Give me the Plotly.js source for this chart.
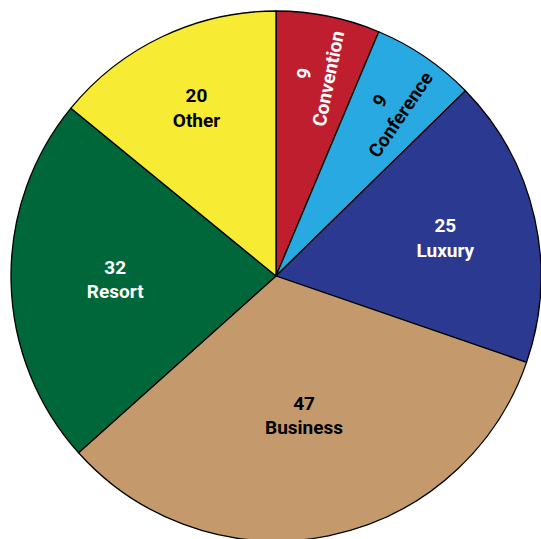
<!DOCTYPE html>
<html>
<head>
<meta charset="utf-8">
<script src="https://cdn.plot.ly/plotly-3.0.1.min.js"></script>
<style>html,body{margin:0;padding:0;overflow:hidden;background:#fff;}</style>
</head>
<body>
<div id="chart"></div>
<script>
// Data
const categories = ["Convention", "Conference", "Luxury", "Business", "Resort", "Other"];
const counts = [9, 9, 25, 47, 32, 20];
const sliceColors = ["#BE1E2D", "#29A9E1", "#2B3990", "#C49A6C", "#00673A", "#F8EB33"];
const labelColors = ["#ffffff", "#000000", "#ffffff", "#000000", "#ffffff", "#000000"];
const radialLabels = [true, true, false, false, false, false];

const font = {family: "Roboto, sans-serif", size: 19, weight: "bold"};

const common = {
  type: "pie",
  labels: categories,
  values: counts,
  sort: false,
  direction: "clockwise",
  rotation: 0,
  textposition: "inside",
  hoverinfo: "none",
  showlegend: false
};

const baseTrace = Object.assign({}, common, {
  marker: {colors: sliceColors, line: {color: "#000000", width: 1.3}},
  texttemplate: categories.map((c, i) => radialLabels[i] ? "" : "%{value}<br>%{label}"),
  insidetextorientation: "horizontal",
  insidetextfont: Object.assign({}, font, {color: labelColors})
});

const radialTrace = Object.assign({}, common, {
  marker: {colors: categories.map(() => "rgba(0,0,0,0)"), line: {width: 0}},
  texttemplate: categories.map((c, i) => radialLabels[i] ? "%{value}<br>%{label}" : ""),
  insidetextorientation: "radial",
  insidetextfont: Object.assign({}, font, {color: labelColors})
});

const layout = {
  width: 541,
  height: 541,
  margin: {l: 11, r: 0, t: 11, b: 0},
  paper_bgcolor: "#ffffff",
  plot_bgcolor: "#ffffff"
};

Plotly.newPlot("chart", [baseTrace, radialTrace], layout, {displayModeBar: false, staticPlot: true});
</script>
</body>
</html>
